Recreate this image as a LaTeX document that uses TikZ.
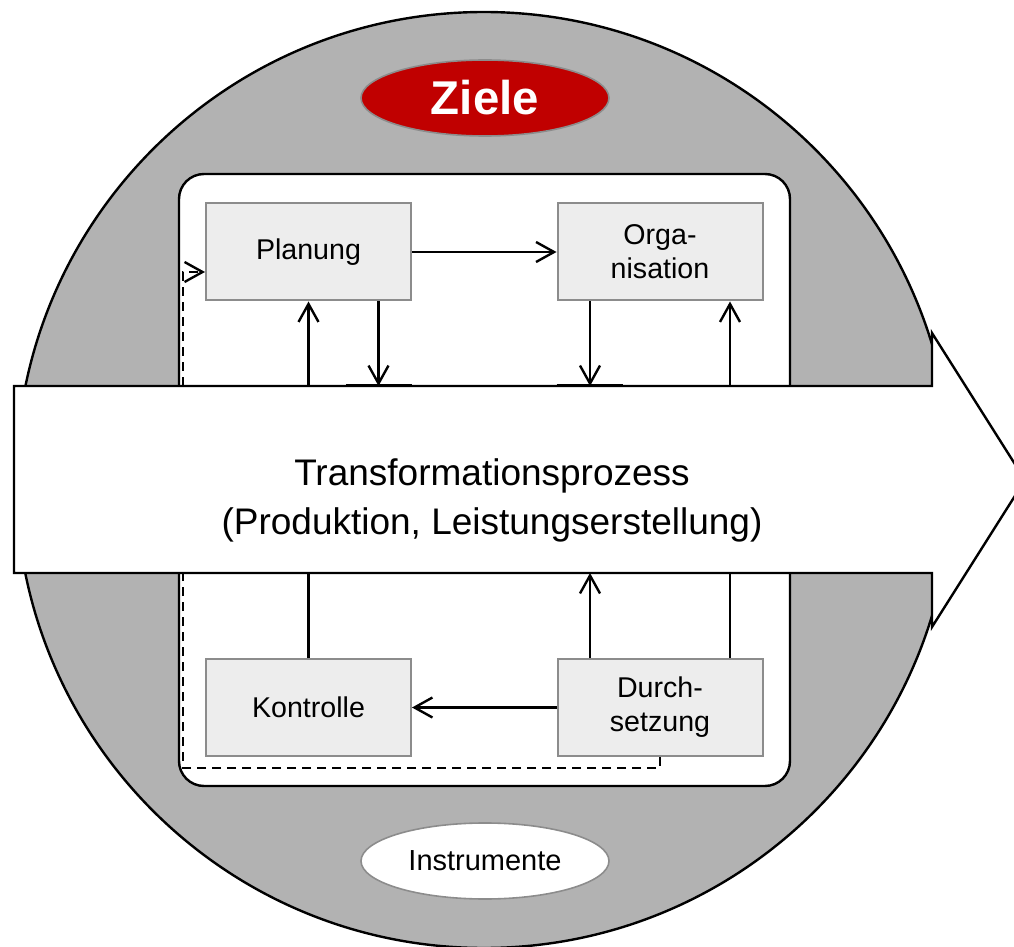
\documentclass[tikz,border=0pt]{standalone}
\usepackage{fontspec}
\setmainfont{Liberation Sans}
\usetikzlibrary{arrows.meta, shapes}

\definecolor{ringgray}{HTML}{B2B2B2}
\definecolor{boxfill}{HTML}{EDEDED}
\definecolor{boxline}{HTML}{8C8C8C}
\definecolor{zielred}{HTML}{C00000}

\begin{document}
\begin{tikzpicture}[x=0.5pt, y=-0.5pt,
    box/.style={draw=boxline, fill=boxfill, line width=1pt, inner sep=0pt,
      minimum width=102.5pt, minimum height=48.5pt, align=center,
      font=\fontsize{14.3}{17}\selectfont},
    oval/.style={ellipse, draw=boxline, line width=0.8pt, inner sep=0pt,
      minimum width=124pt, minimum height=38pt},
    conn/.style={line width=1.2pt},
    tip/.style={-{Straight Barb[length=9pt, width=10pt, line width=1.2pt]}},
    dashline/.style={line width=1.2pt, dash pattern=on 4.5pt off 3pt}]
  \useasboundingbox (0,0) rectangle (1014,947);
  \clip (0,0) rectangle (1014,947);
  \filldraw [fill=ringgray, draw=black, line width=1.2pt] (484,480) circle [radius=234pt];
  \node [oval, fill=zielred, text=white, font=\bfseries\fontsize{23.7}{28}\selectfont] (ziele) at (485,98) {Ziele};
  \node [oval, fill=white, font=\fontsize{14.5}{17}\selectfont] (instr) at (485,861) {Instrumente};
  \filldraw [fill=white, draw=black, line width=1.2pt, rounded corners=12.5pt] (179,174) rectangle (790,786);

  \node [box] (plan) at (308.5,252) {Planung};
  \node [box] (orga) at (660,252) {Orga-\\nisation};
  \node [box] (kontr) at (308.5,707.5) {Kontrolle};
  \node [box] (durch) at (660,707.5) {Durch-\\setzung};

  \coordinate (ttop) at (0,386);
  \coordinate (tbot) at (0,573);

  \draw [conn, tip] (plan) -- (orga);
  \draw [conn, tip] (durch) -- (kontr);
  \draw [conn, tip] (kontr) -- (plan);
  \draw [conn, tip] ([xshift=35pt]durch.north) -- ([xshift=35pt]orga.south);
  \draw [conn, tip] ([xshift=35pt]plan.south) -- ([xshift=35pt]plan.south |- ttop);
  \draw [conn, tip] ([xshift=-35pt]orga.south) -- ([xshift=-35pt]orga.south |- ttop);
  \draw [dashline, tip] (durch.south) -- ++(0,11) -| ([xshift=-11pt, yshift=-10pt]plan.west) -- ([yshift=-10pt]plan.west);

  \filldraw [fill=white, draw=black, line width=1.2pt]
    (14,386) -- (932,386) -- (932,333) -- (1025,480) -- (932,627) -- (932,573) -- (14,573) -- cycle;
  \draw [conn, tip] ([xshift=-35pt]durch.north) -- ([xshift=-35pt]durch.north |- tbot);
  \draw [line width=1.5pt] ([xshift=18.75pt]plan.south |- ttop) -- ([xshift=51.75pt]plan.south |- ttop);
  \draw [line width=1.5pt] ([xshift=-51.75pt]orga.south |- ttop) -- ([xshift=-18.75pt]orga.south |- ttop);
  \node [align=center, font=\fontsize{18.5}{24.5}\selectfont] (trans) at (492,500)
    {Transformationsprozess\\(Produktion, Leistungserstellung)};
\end{tikzpicture}
\end{document}
